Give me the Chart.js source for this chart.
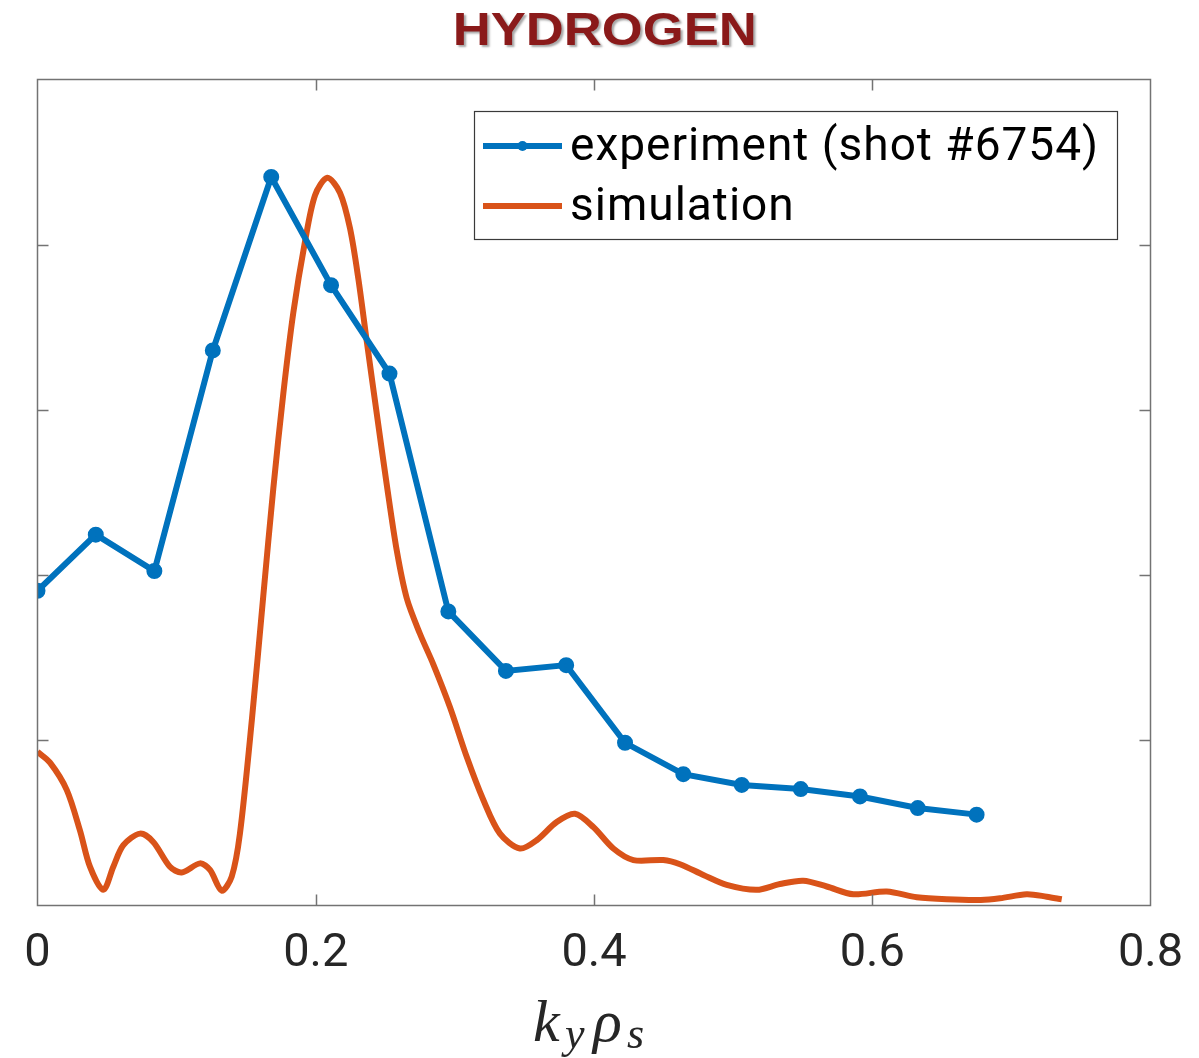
<!DOCTYPE html>
<html>
<head>
<meta charset="utf-8">
<script src="https://cdn.jsdelivr.net/npm/chart.js@4.4.1/dist/chart.umd.min.js"></script>
<style>
  body { margin: 0; background: #fff; }
  #wrap { position: relative; width: 1199px; height: 1058px; }
  #title {
    position: absolute; left: 0; width: 1199px; top: 0; height: 60px;
    text-align: center; font: bold 47px 'Liberation Sans', Arial, sans-serif;
    line-height: 58px; color: #8a1a1a;
    text-shadow: 2px 2px 2px rgba(0, 0, 0, 0.35);
  }
  #title span { display: inline-block; transform: scaleX(1.12); margin-left: 10px; }
</style>
</head>
<body>
<div id="wrap">
  <canvas id="chart" width="1199" height="1058"></canvas>
  <div id="title"><span>HYDROGEN</span></div>
</div>
<script>
// experiment (shot #6754)
const expK = [0, 0.0419, 0.084, 0.126, 0.168, 0.211, 0.253, 0.2953, 0.3367, 0.380,
              0.4223, 0.4642, 0.5062, 0.5486, 0.5912, 0.6327, 0.675];
const expVal = [0.381, 0.449, 0.405, 0.672, 0.882, 0.751, 0.644, 0.356, 0.284, 0.291,
                0.197, 0.159, 0.146, 0.141, 0.132, 0.118, 0.110];

// simulation
const simK = [0, 0.009, 0.021, 0.0305, 0.0377, 0.0473, 0.0545, 0.0617, 0.0737, 0.0832,
              0.0952, 0.1036, 0.1168, 0.124, 0.1324, 0.1396, 0.1455, 0.1541, 0.1623, 0.1695,
              0.1767, 0.1839, 0.1923, 0.1995, 0.2083, 0.2174, 0.2246, 0.2306, 0.2366, 0.2438,
              0.251, 0.2582, 0.2654, 0.2749, 0.2845, 0.2965, 0.3085, 0.3204, 0.3324, 0.3468,
              0.3588, 0.3732, 0.3863, 0.3995, 0.4139, 0.4283, 0.4498, 0.4618, 0.4786, 0.4954,
              0.517, 0.5337, 0.5504, 0.5673, 0.5864, 0.6104, 0.632, 0.6535, 0.678, 0.6918,
              0.711, 0.7254, 0.7362];
const simVal = [0.186, 0.173, 0.140, 0.091, 0.047, 0.019, 0.047, 0.073, 0.087, 0.077,
                0.047, 0.040, 0.051, 0.043, 0.018, 0.035, 0.087, 0.225, 0.375, 0.505,
                0.620, 0.718, 0.804, 0.860, 0.881, 0.863, 0.820, 0.759, 0.684, 0.596,
                0.510, 0.430, 0.372, 0.329, 0.292, 0.240, 0.180, 0.128, 0.087, 0.069,
                0.079, 0.101, 0.111, 0.095, 0.069, 0.055, 0.055, 0.050, 0.037, 0.025,
                0.019, 0.026, 0.030, 0.023, 0.0136, 0.017, 0.010, 0.0075, 0.0067, 0.0087,
                0.0136, 0.0107, 0.0075];

const xTicks = [0, 0.2, 0.4, 0.6, 0.8];
const yTicks = [0.2, 0.4, 0.6, 0.8];

const blue = '#0072BD';
const orange = '#D95319';
const axisGrey = '#737373';

// box, inward ticks, legend and the k_y rho_s label
const matlabAxes = {
  id: 'matlabAxes',
  afterDraw(chart) {
    const { ctx, chartArea: a, scales } = chart;
    const tl = 11;
    ctx.save();
    ctx.strokeStyle = axisGrey;
    ctx.lineWidth = 1.5;
    ctx.strokeRect(a.left, a.top, a.right - a.left, a.bottom - a.top);
    ctx.beginPath();
    xTicks.slice(1, -1).forEach(v => {
      const px = Math.round(scales.x.getPixelForValue(v)) + 0.5;
      ctx.moveTo(px, a.bottom); ctx.lineTo(px, a.bottom - tl);
      ctx.moveTo(px, a.top); ctx.lineTo(px, a.top + tl);
    });
    yTicks.forEach(v => {
      const py = Math.round(scales.y.getPixelForValue(v)) + 0.5;
      ctx.moveTo(a.left, py); ctx.lineTo(a.left + tl, py);
      ctx.moveTo(a.right, py); ctx.lineTo(a.right - tl, py);
    });
    ctx.stroke();

    // legend
    const lw = 643, lh = 128;
    const lx = Math.round(a.right - 33.5 - lw), ly = Math.round(a.top + 31.5);
    ctx.fillStyle = '#fff';
    ctx.fillRect(lx, ly, lw, lh);
    ctx.strokeStyle = '#3a3a3a';
    ctx.lineWidth = 1.2;
    ctx.strokeRect(lx + 0.5, ly + 0.5, lw, lh);
    const rows = [
      { label: 'experiment (shot #6754)', color: blue, marker: true, y: ly + 35 },
      { label: 'simulation', color: orange, marker: false, y: ly + 95 }
    ];
    ctx.font = '46px Roboto';
    ctx.letterSpacing = '1px';
    ctx.textBaseline = 'middle';
    rows.forEach(r => {
      ctx.strokeStyle = r.color;
      ctx.lineWidth = 6;
      ctx.beginPath();
      ctx.moveTo(lx + 9, r.y);
      ctx.lineTo(lx + 88, r.y);
      ctx.stroke();
      if (r.marker) {
        ctx.fillStyle = r.color;
        ctx.beginPath();
        ctx.arc(lx + 48.5, r.y, 5, 0, Math.PI * 2);
        ctx.fill();
      }
      ctx.fillStyle = '#000';
      ctx.fillText(r.label, lx + 96, r.y + 2);
    });
    ctx.letterSpacing = '0px';

    // x axis label k_y rho_s
    const big = 'italic 60px "Liberation Serif"';
    const small = 'italic 44px "Liberation Serif"';
    const cx = (a.left + a.right) / 2;
    const base = a.bottom + 135;
    const parts = [['k', big, -61, 0], ['y', small, -29, 7], ['ρ', big, -1, 0], ['s', small, 33, 7]];
    ctx.fillStyle = '#262626';
    ctx.textBaseline = 'alphabetic';
    parts.forEach(p => {
      ctx.font = p[1];
      ctx.fillText(p[0], cx + p[2], base + p[3]);
    });
    ctx.restore();
  }
};

new Chart(document.getElementById('chart'), {
  type: 'scatter',
  data: {
    datasets: [
      {
        label: 'experiment (shot #6754)',
        data: expK.map((k, i) => ({ x: k, y: expVal[i] })),
        showLine: true,
        borderColor: blue,
        backgroundColor: blue,
        borderWidth: 6,
        pointRadius: 5,
        tension: 0
      },
      {
        label: 'simulation',
        data: simK.map((k, i) => ({ x: k, y: simVal[i] })),
        showLine: true,
        borderColor: orange,
        borderWidth: 6,
        pointRadius: 0,
        tension: 0.3
      }
    ]
  },
  options: {
    responsive: false,
    animation: false,
    layout: { padding: { left: 37.5, right: 48.5, top: 79.5, bottom: 0 } },
    plugins: { legend: { display: false }, tooltip: { enabled: false } },
    scales: {
      x: {
        type: 'linear',
        min: 0,
        max: 0.8,
        afterBuildTicks: s => { s.ticks = xTicks.map(v => ({ value: v })); },
        afterFit: s => { s.height = 152.5; },
        grid: { display: true, drawOnChartArea: false, drawTicks: true, tickLength: 21, color: 'rgba(0,0,0,0)' },
        border: { display: false },
        ticks: {
          padding: 0,
          color: '#262626',
          font: { family: 'Roboto', size: 47 },
          maxRotation: 0,
          callback: v => String(v)
        }
      },
      y: {
        display: false,
        min: 0,
        max: 1
      }
    }
  },
  plugins: [matlabAxes]
});
</script>
</body>
</html>
